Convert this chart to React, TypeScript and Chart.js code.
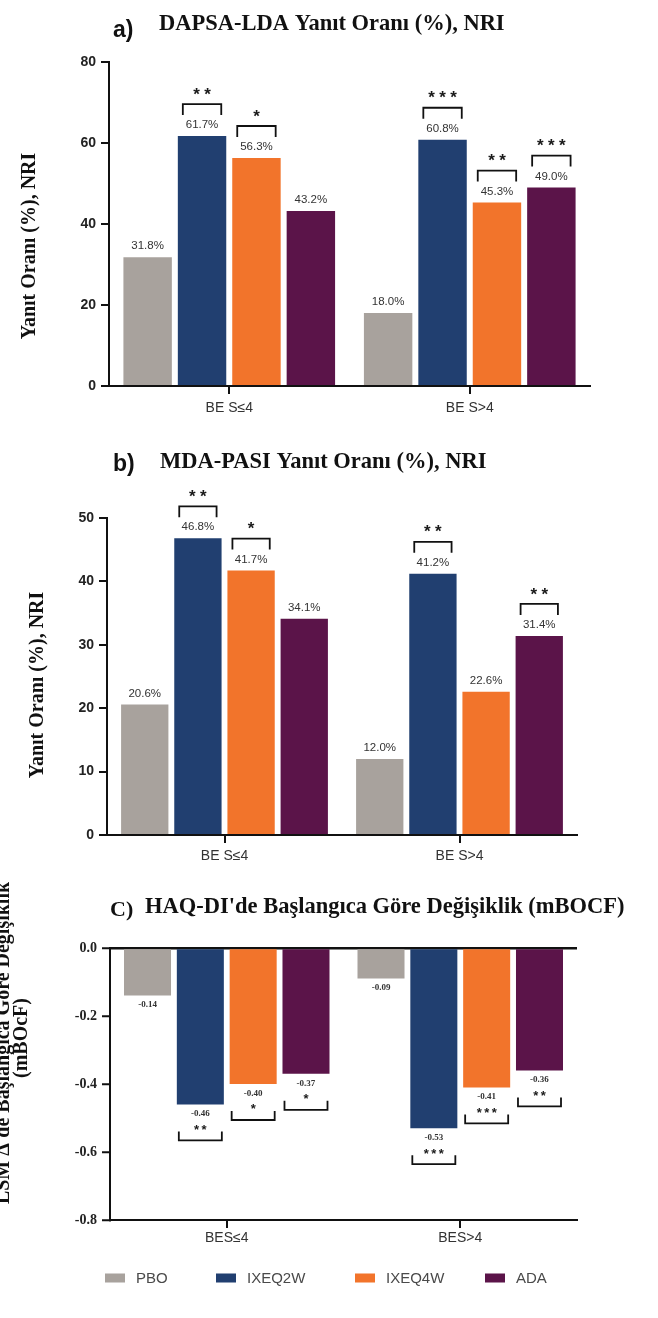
import React, { useEffect, useRef } from "react";
import { Chart, registerables } from "chart.js";

Chart.register(...registerables);

// ---------- data ----------
const categoriesAB = ["BE S≤4", "BE S>4"];
const categoriesC = ["BES≤4", "BES>4"];
const seriesNames = ["PBO", "IXEQ2W", "IXEQ4W", "ADA"];
const seriesColors = ["#a8a29d", "#213f70", "#f2742b", "#5b1449"];

const dapsaPBO = [31.8, 18.0];
const dapsaQ2W = [61.7, 60.8];
const dapsaQ4W = [56.3, 45.3];
const dapsaADA = [43.2, 49.0];
const dapsaSig = [["", ""], ["**", "***"], ["*", "**"], ["", "***"]];

const mdaPBO = [20.6, 12.0];
const mdaQ2W = [46.8, 41.2];
const mdaQ4W = [41.7, 22.6];
const mdaADA = [34.1, 31.4];
const mdaSig = [["", ""], ["**", "**"], ["*", ""], ["", "**"]];

const haqPBO = [-0.14, -0.09];
const haqQ2W = [-0.46, -0.53];
const haqQ4W = [-0.4, -0.41];
const haqADA = [-0.37, -0.36];
const haqSig = [["", ""], ["**", "***"], ["*", "***"], ["*", "**"]];

const yTicksA = { min: 0, max: 80, step: 20 };
const yTicksB = { min: 0, max: 50, step: 10 };
const yTicksC = { min: -0.8, max: 0, step: 0.2 };

const titleA = "DAPSA-LDA Yanıt Oranı (%), NRI";
const titleB = "MDA-PASI Yanıt Oranı (%), NRI";
const titleC = "HAQ-DI'de Başlangıca Göre Değişiklik (mBOCF)";
const yTitleAB = "Yanıt Oranı (%), NRI";
const yTitleC1 = "LSM Δ'de Başlangıca Göre Değişiklik";
const yTitleC2 = "(mBOcF)";

// ---------- helpers ----------
const W = 658;
const SANS = '"Liberation Sans", Arial, sans-serif';
const SERIF = '"Liberation Serif", "Times New Roman", serif';

function datasets(values: number[][]) {
  return values.map((v, i) => ({
    label: seriesNames[i],
    data: v,
    backgroundColor: seriesColors[i],
    borderWidth: 0,
    categoryPercentage: 0.905,
    barPercentage: 0.89,
  }));
}

function drawStars(ctx: CanvasRenderingContext2D, s: string, cx: number, cy: number, size: number, pitch: number) {
  ctx.font = `bold ${size}px ${SANS}`;
  ctx.textBaseline = "alphabetic";
  ctx.textAlign = "center";
  ctx.fillStyle = "#1a1a1a";
  const n = s.length;
  for (let k = 0; k < n; k++) ctx.fillText("*", cx + (k - (n - 1) / 2) * pitch, cy + size * 0.57);
}

function annotPlugin(sig: string[][], negative: boolean, fmt: (v: number) => string) {
  return {
    id: "annot",
    afterDatasetsDraw(chart: any) {
      const ctx: CanvasRenderingContext2D = chart.ctx;
      ctx.save();
      chart.data.datasets.forEach((ds: any, i: number) => {
        const meta = chart.getDatasetMeta(i);
        meta.data.forEach((el: any, j: number) => {
          const v = ds.data[j] as number;
          const x = el.x, y = el.y, w = el.width;
          const s = sig[i][j];
          ctx.textAlign = "center";
          ctx.strokeStyle = "#111";
          ctx.lineWidth = 1.8;
          if (!negative) {
            ctx.fillStyle = "#333";
            ctx.font = `11.5px ${SANS}`;
            ctx.textBaseline = "middle";
            ctx.fillText(fmt(v), x, y - 11);
            if (s) {
              const l = x - w / 2 + 5, r = x + w / 2 - 5;
              ctx.beginPath();
              ctx.moveTo(l, y - 21);
              ctx.lineTo(l, y - 32);
              ctx.lineTo(r, y - 32);
              ctx.lineTo(r, y - 21);
              ctx.stroke();
              drawStars(ctx, s, x, y - 46, 17, 11);
            }
          } else {
            ctx.fillStyle = "#333";
            ctx.font = `bold 9px ${SERIF}`;
            ctx.textBaseline = "middle";
            ctx.fillText(fmt(v), x, y + 9.5);
            if (s) {
              const l = x - w / 2 + 2, r = x + w / 2 - 2;
              ctx.beginPath();
              ctx.moveTo(l, y + 27);
              ctx.lineTo(l, y + 36);
              ctx.lineTo(r, y + 36);
              ctx.lineTo(r, y + 27);
              ctx.stroke();
              drawStars(ctx, s, x, y + 22, 13, 7.5);
            }
          }
        });
      });
      ctx.restore();
    },
  };
}

type TextSpec = {
  canvasTop: number;
  letter: string; letterFont: string; letterX: number; letterBase: number;
  title: string; titleX: number; titleBase: number;
  yTitles: { text: string; x: number; y: number; baseline: CanvasTextBaseline }[];
  legendY?: number;
};

function textPlugin(t: TextSpec) {
  return {
    id: "texts",
    afterDraw(chart: any) {
      const ctx: CanvasRenderingContext2D = chart.ctx;
      const o = t.canvasTop;
      ctx.save();
      ctx.fillStyle = "#111";
      ctx.textAlign = "left";
      ctx.textBaseline = "alphabetic";
      ctx.font = t.letterFont;
      ctx.fillText(t.letter, t.letterX, t.letterBase - o);
      ctx.font = `bold 22.5px ${SERIF}`;
      ctx.fillText(t.title, t.titleX, t.titleBase - o);
      ctx.font = `bold 20px ${SERIF}`;
      ctx.textAlign = "center";
      t.yTitles.forEach((yt) => {
        ctx.save();
        ctx.translate(yt.x, yt.y - o);
        ctx.rotate(-Math.PI / 2);
        ctx.textBaseline = yt.baseline;
        ctx.fillText(yt.text, 0, 0);
        ctx.restore();
      });
      if (t.legendY !== undefined) {
        const lx = [105, 216, 355, 485];
        const ly = t.legendY - o;
        chart.data.datasets.forEach((ds: any, i: number) => {
          ctx.fillStyle = ds.backgroundColor;
          ctx.fillRect(lx[i], ly - 4.5, 20, 9);
          ctx.fillStyle = "#4a4a4a";
          ctx.font = `15px ${SANS}`;
          ctx.textAlign = "left";
          ctx.textBaseline = "middle";
          ctx.fillText(ds.label, lx[i] + 31, ly + 1);
        });
      }
      ctx.restore();
    },
  };
}

type PanelOpts = {
  canvasTop: number; height: number;
  left: number; right: number; top: number; bottom: number; // page coords of chart area
  xAxisH: number; xPad: number;
  labels: string[]; values: number[][];
  yt: { min: number; max: number; step: number };
  yFmt: (v: number) => string; yFont: string;
  negative: boolean; sig: string[][]; fmt: (v: number) => string;
  text: TextSpec;
};

function makeConfig(p: PanelOpts): any {
  const padTop = p.top - p.canvasTop;
  const padBottom = p.height - (p.bottom - p.canvasTop) - p.xAxisH;
  return {
    type: "bar",
    data: { labels: p.labels, datasets: datasets(p.values) },
    options: {
      animation: false,
      responsive: false,
      devicePixelRatio: 1,
      layout: { padding: { left: 0, right: W - p.right, top: padTop, bottom: padBottom } },
      plugins: { legend: { display: false }, tooltip: { enabled: false }, title: { display: false } },
      scales: {
        x: {
          type: "category",
          offset: true,
          grid: { display: true, offset: false, drawOnChartArea: false, drawTicks: true, tickLength: 8, color: "#111", lineWidth: 2 },
          border: { display: true, color: "#111", width: 2 },
          ticks: { color: "#333", font: { family: SANS, size: 14 }, padding: p.xPad, maxRotation: 0, autoSkip: false },
          afterFit: (s: any) => { s.height = p.xAxisH; },
        },
        y: {
          min: p.yt.min,
          max: p.yt.max,
          ticks: {
            stepSize: p.yt.step,
            color: "#222",
            font: { family: p.yFont, size: 14, weight: "bold" },
            padding: 5,
            callback: (v: any) => p.yFmt(Number(v)),
          },
          grid: p.negative
            ? {
                drawOnChartArea: true,
                tickLength: 8,
                lineWidth: 2.5,
                color: (c: any) => (c.tick && Math.abs(c.tick.value) < 1e-9 ? "#111" : "rgba(0,0,0,0)"),
                tickColor: "#111",
                tickWidth: 2,
              }
            : { drawOnChartArea: false, tickLength: 8, color: "#111", lineWidth: 2 },
          border: { color: "#111", width: 2 },
          afterFit: (s: any) => { s.width = p.left; },
        },
      },
    },
    plugins: [annotPlugin(p.sig, p.negative, p.fmt), textPlugin(p.text)],
  };
}

const pct = (v: number) => v.toFixed(1) + "%";
const dec2 = (v: number) => v.toFixed(2);

const panelA: PanelOpts = {
  canvasTop: 0, height: 430,
  left: 109, right: 590, top: 62, bottom: 386,
  xAxisH: 44, xPad: 6,
  labels: categoriesAB,
  values: [dapsaPBO, dapsaQ2W, dapsaQ4W, dapsaADA],
  yt: yTicksA, yFmt: (v) => String(Math.round(v)), yFont: SANS,
  negative: false, sig: dapsaSig, fmt: pct,
  text: {
    canvasTop: 0,
    letter: "a)", letterFont: `bold 23px ${SANS}`, letterX: 113, letterBase: 37,
    title: titleA, titleX: 159, titleBase: 30,
    yTitles: [{ text: yTitleAB, x: 30, y: 246, baseline: "middle" }],
  },
};

const panelB: PanelOpts = {
  canvasTop: 430, height: 440,
  left: 107, right: 577, top: 518, bottom: 835,
  xAxisH: 35, xPad: 5,
  labels: categoriesAB,
  values: [mdaPBO, mdaQ2W, mdaQ4W, mdaADA],
  yt: yTicksB, yFmt: (v) => String(Math.round(v)), yFont: SANS,
  negative: false, sig: mdaSig, fmt: pct,
  text: {
    canvasTop: 430,
    letter: "b)", letterFont: `bold 23px ${SANS}`, letterX: 113, letterBase: 471,
    title: titleB, titleX: 160, titleBase: 468,
    yTitles: [{ text: yTitleAB, x: 38, y: 685, baseline: "middle" }],
  },
};

const panelC: PanelOpts = {
  canvasTop: 870, height: 448,
  left: 110, right: 577, top: 948, bottom: 1220,
  xAxisH: 40, xPad: 2,
  labels: categoriesC,
  values: [haqPBO, haqQ2W, haqQ4W, haqADA],
  yt: yTicksC, yFmt: (v) => (Math.abs(v) < 1e-9 ? 0 : v).toFixed(1), yFont: SERIF,
  negative: true, sig: haqSig, fmt: dec2,
  text: {
    canvasTop: 870,
    letter: "C)", letterFont: `bold 22px ${SERIF}`, letterX: 110, letterBase: 916,
    title: titleC, titleX: 145, titleBase: 913,
    yTitles: [
      { text: yTitleC1, x: 9, y: 1043, baseline: "alphabetic" },
      { text: yTitleC2, x: 22, y: 1038, baseline: "middle" },
    ],
    legendY: 1278,
  },
};

function Panel({ p }: { p: PanelOpts }) {
  const ref = useRef<HTMLCanvasElement>(null);
  useEffect(() => {
    const chart = new Chart(ref.current as HTMLCanvasElement, makeConfig(p));
    return () => chart.destroy();
  }, []);
  return (
    <canvas
      ref={ref}
      width={W}
      height={p.height}
      style={{ position: "absolute", left: 0, top: p.canvasTop, width: W, height: p.height }}
    />
  );
}

export default function App() {
  return (
    <div style={{ position: "absolute", left: 0, top: 0, width: W, height: 1318, background: "#fff", overflow: "hidden" }}>
      <Panel p={panelA} />
      <Panel p={panelB} />
      <Panel p={panelC} />
    </div>
  );
}
